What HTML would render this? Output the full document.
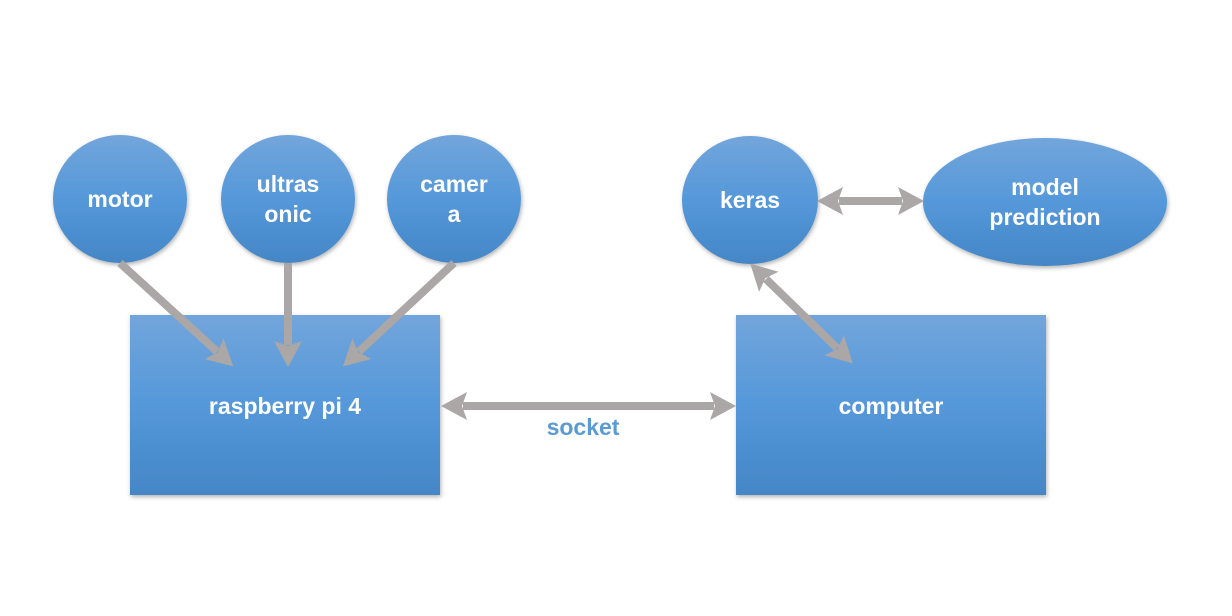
<!DOCTYPE html>
<html><head><style>
html,body{margin:0;padding:0;background:#fff;width:1232px;height:616px;overflow:hidden}
</style></head><body>
<svg width="1232" height="616" viewBox="0 0 1232 616" xmlns="http://www.w3.org/2000/svg">
<defs>
<linearGradient id="g" x1="0" y1="0" x2="0" y2="1">
<stop offset="0" stop-color="#72a5db"/><stop offset="0.5" stop-color="#5598da"/><stop offset="1" stop-color="#4486c6"/>
</linearGradient>
<filter id="s" x="-20%" y="-20%" width="140%" height="140%"><feDropShadow dx="1" dy="2" stdDeviation="2" flood-color="#000" flood-opacity="0.3"/></filter>
<marker id="a" markerUnits="userSpaceOnUse" markerWidth="26" markerHeight="28" refX="4" refY="14" orient="auto-start-reverse">
<path d="M0,0 L26,14 L0,28 L5,14 Z" fill="#aaa7a6"/>
</marker>
</defs>
<g filter="url(#s)" fill="url(#g)">
<ellipse cx="120" cy="199" rx="67" ry="64"/>
<ellipse cx="288" cy="199" rx="67" ry="64"/>
<ellipse cx="454" cy="199" rx="67" ry="64"/>
<ellipse cx="750" cy="200" rx="68" ry="64"/>
<ellipse cx="1045" cy="202" rx="122" ry="64"/>
<rect x="130" y="315" width="310" height="180"/>
<rect x="736" y="315" width="310" height="180"/>
</g>
<g stroke="#aaa7a6" stroke-width="8" fill="none">
<line x1="120" y1="263" x2="217" y2="351.5" marker-end="url(#a)"/>
<line x1="288" y1="263" x2="288" y2="345" marker-end="url(#a)"/>
<line x1="454" y1="263" x2="359" y2="351.5" marker-end="url(#a)"/>
<line x1="463" y1="406" x2="714" y2="406" marker-start="url(#a)" marker-end="url(#a)"/>
<line x1="766" y1="279" x2="837" y2="348" marker-start="url(#a)" marker-end="url(#a)"/>
<line x1="839" y1="201" x2="902" y2="201" marker-start="url(#a)" marker-end="url(#a)"/>
</g>
<g font-family="Liberation Sans, sans-serif" font-weight="bold" font-size="23" fill="#fff" text-anchor="middle">
<text x="120" y="207">motor</text>
<text x="288" y="192">ultras</text>
<text x="288" y="222">onic</text>
<text x="454" y="192">camer</text>
<text x="454" y="222">a</text>
<text x="750" y="208">keras</text>
<text x="1045" y="195">model</text>
<text x="1045" y="225">prediction</text>
<text x="285" y="414">raspberry pi 4</text>
<text x="891" y="414">computer</text>
<text x="583" y="435" fill="#5b9bd5">socket</text>
</g>
</svg>
</body></html>
